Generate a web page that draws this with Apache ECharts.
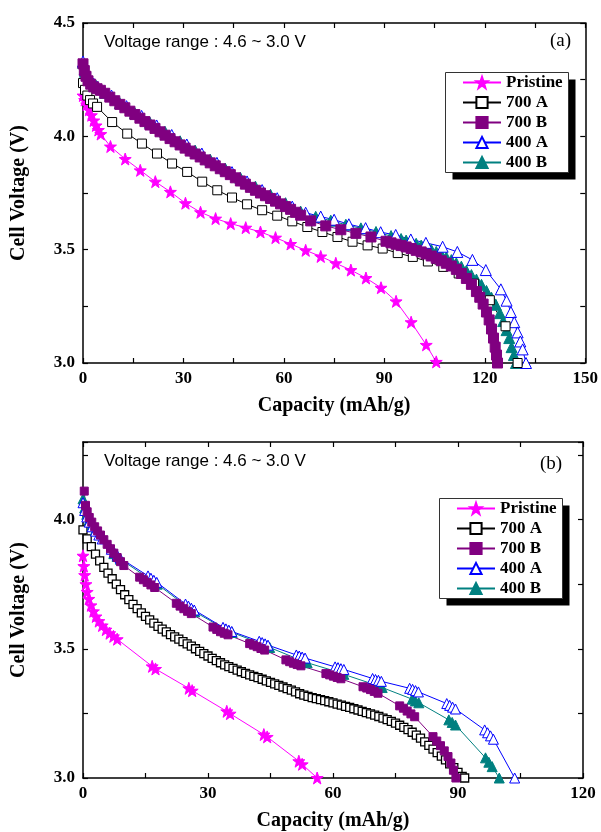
<!DOCTYPE html>
<html>
<head>
<meta charset="utf-8">
<script src="https://cdn.jsdelivr.net/npm/echarts@6/dist/echarts.min.js"></script>
<style>
  html, body { margin: 0; padding: 0; background: #fff; }
  #chart { width: 601px; height: 832px; }
</style>
</head>
<body>
<div id="chart"></div>
<script>
// ---- Panel (a): discharge curves, capacity (mAh/g) vs cell voltage (V) ----
const pristineA = [[0,4.18],[0.5,4.16],[1.1,4.14],[1.8,4.117],[2.5,4.093],[3.2,4.07],[3.9,4.048],[4.6,4.028],[5.3,4.01],
  [8.2,3.955],[12.6,3.90],[17.1,3.85],[21.6,3.80],[26.1,3.755],[30.6,3.705],[35.1,3.665],[39.6,3.637],[44.1,3.615],
  [48.6,3.597],[53.0,3.578],[57.5,3.553],[62.0,3.525],[66.5,3.497],[71.0,3.47],[75.5,3.44],[80.0,3.41],[84.5,3.375],
  [89.0,3.332],[93.5,3.272],[98.0,3.18],[102.5,3.08],[105.5,3.005]];

const s700A_a = [[0,4.235],[0.6,4.205],[1.3,4.18],[2.1,4.16],[3.0,4.145],[4.2,4.13],[8.7,4.063],[13.2,4.012],[17.6,3.968],
  [22.1,3.924],[26.6,3.88],[31.1,3.843],[35.6,3.80],[40.1,3.762],[44.5,3.73],[49.0,3.70],[53.5,3.674],[58.0,3.65],
  [62.5,3.625],[67.0,3.60],[71.5,3.578],[76.0,3.556],[80.5,3.535],[85.0,3.519],[89.5,3.505],[94.0,3.485],[98.5,3.468],
  [103.0,3.448],[107.6,3.424],[112.2,3.395],[116.8,3.35],[121.5,3.277],[126.2,3.162],[129.8,3.0]];

const s700B_a = [[0,4.32],[0.4,4.29],[0.9,4.265],[1.5,4.245],[2.3,4.23],[3.2,4.218],[4.2,4.21],[5.2,4.203],[6.5,4.19],
  [8,4.173],[9.5,4.157],[11,4.141],[12.5,4.126],[14,4.111],[15.5,4.096],[17,4.08],[18.5,4.065],[20,4.05],[21.5,4.035],
  [23,4.02],[24.5,4.005],[26,3.99],[27.5,3.976],[29,3.962],[30.5,3.948],[32,3.935],[33.5,3.922],[35,3.909],[36.5,3.896],
  [38,3.883],[39.5,3.87],[41,3.857],[42.5,3.844],[44,3.831],[45.5,3.817],[47,3.803],[48.5,3.789],[50,3.775],[51.5,3.762],
  [53,3.75],[54.5,3.738],[56,3.726],[57.5,3.714],[59,3.702],[60.5,3.69],[62,3.678],[63.5,3.665],[65,3.652],
  [68,3.627],[72.5,3.605],[77,3.588],[81.5,3.572],[86,3.556],[90.5,3.537],
  [92,3.53],[93.5,3.524],[95,3.518],[96.5,3.512],[98,3.505],[99.5,3.497],[101,3.49],[102.5,3.481],[104,3.472],
  [105.5,3.462],[107,3.451],[108.5,3.44],[110,3.428],[111.5,3.413],[113,3.395],[114.5,3.373],[116,3.347],[117.5,3.315],
  [118.5,3.29],[119.5,3.26],[120.5,3.225],[121.3,3.19],[122,3.15],[122.6,3.11],[123.1,3.07],[123.5,3.035],[123.8,3.0]];

const s400A_a = [[0,4.33],[0.5,4.295],[1.2,4.268],[2.1,4.248],[3.2,4.232],[4.4,4.218],[8.5,4.18],[13,4.133],[17.5,4.09],
  [22,4.048],[26.5,4.006],[31,3.964],[35.5,3.924],[40,3.883],[44.5,3.842],[49,3.801],[53.5,3.763],[58,3.727],[62.5,3.69],
  [66.5,3.663],[71,3.646],[75,3.632],[79.4,3.612],[84.4,3.595],[88.9,3.577],[93.4,3.565],[97.9,3.545],[102.4,3.53],
  [107.4,3.513],[111.8,3.49],[116.3,3.455],[120.3,3.41],[124.8,3.325],[126.5,3.275],[127.8,3.225],[128.8,3.18],
  [129.8,3.135],[130.6,3.095],[131.3,3.06],[132.3,3.0]];

const s400B_a = [[0,4.325],[0.6,4.285],[1.4,4.26],[2.5,4.24],[4,4.222],[6.5,4.192],[11,4.146],[15.5,4.102],[20,4.06],
  [24.5,4.02],[29,3.978],[33.5,3.937],[38,3.897],[42.5,3.857],[47,3.817],[51.5,3.778],[56,3.742],[60.5,3.705],[65,3.668],
  [69.5,3.645],[74,3.628],[78.5,3.61],[83,3.594],[87.5,3.578],[92,3.56],
  [93.5,3.553],[95,3.547],[96.5,3.54],[98,3.533],[99.5,3.526],[101,3.518],[102.5,3.51],[104,3.5],[105.5,3.49],
  [107,3.479],[108.5,3.467],[110,3.454],[111.5,3.44],[113,3.425],[114.5,3.407],[116,3.388],[117.5,3.368],[119,3.345],
  [120.5,3.318],[122,3.288],[123.3,3.257],[124.5,3.22],[125.5,3.185],[126.5,3.145],[127.3,3.11],[128,3.07],
  [128.7,3.035],[129.3,3.0]];

// ---- Panel (b) ----
const pristineB = [[0,3.86],[0.2,3.82],[0.4,3.785],[0.7,3.75],[1.0,3.72],[1.4,3.693],[1.9,3.668],[2.5,3.645],[3.1,3.625],
  [3.8,3.607],[4.6,3.59],[5.5,3.574],[6.4,3.56],[7.3,3.548],[8.2,3.537],[16.6,3.432],[17.4,3.422],[25.4,3.347],
  [26.2,3.338],[34.5,3.258],[35.3,3.249],[43.4,3.168],[44.2,3.159],[51.8,3.065],[52.6,3.053],[56.2,3.0]];

const s700A_b = [[0,3.96],[1,3.925],[2,3.895],[3,3.866],[4,3.84],[5,3.815],[6,3.793],[7,3.771],[8,3.75],[9,3.729],
  [10,3.709],[11,3.69],[12,3.672],[13,3.655],[14,3.639],[15,3.625],[16,3.612],[17,3.599],[18,3.587],[19,3.576],
  [20,3.565],[21,3.555],[22,3.546],[23,3.537],[24,3.528],[25,3.519],[26,3.51],[27,3.5],[28,3.49],[29,3.481],
  [30,3.472],[31,3.463],[32,3.454],[33,3.446],[34,3.438],[35,3.431],[36,3.424],[37,3.417],[38,3.411],[39,3.405],
  [40,3.399],[41,3.393],[42,3.388],[43,3.382],[44,3.376],[45,3.37],[46,3.364],[47,3.358],[48,3.352],[49,3.346],
  [50,3.34],[51,3.333],[52,3.326],[53,3.321],[54,3.316],[55,3.311],[56,3.307],[57,3.303],[58,3.299],[59,3.295],
  [60,3.291],[61,3.286],[62,3.282],[63,3.277],[64,3.273],[65,3.268],[66,3.263],[67,3.258],[68,3.253],[69,3.248],
  [70,3.243],[71,3.238],[72,3.232],[73,3.226],[74,3.219],[75,3.212],[76,3.204],[77,3.196],[78,3.187],[79,3.177],
  [80,3.166],[81,3.154],[82,3.14],[83,3.126],[84,3.112],[85,3.098],[86,3.085],[87,3.07],[88,3.055],[89,3.04],
  [90,3.022],[91,3.006],[91.6,3.0]];

const s700B_b = [[0.3,4.11],[0.6,4.055],[1.0,4.03],[1.5,4.008],[2.1,3.99],[2.8,3.972],[3.5,3.956],[4.2,3.94],[5.0,3.922],
  [5.8,3.904],[6.6,3.887],[7.4,3.87],[8.2,3.853],[9.0,3.837],[9.8,3.822],
  [13.6,3.777],[14.5,3.767],[15.4,3.757],[16.3,3.747],[17.2,3.737],
  [22.4,3.676],[23.3,3.665],[24.2,3.655],[25.1,3.645],[26.0,3.636],
  [31.2,3.584],[32.1,3.575],[33.0,3.566],[33.9,3.56],[34.8,3.554],
  [40.0,3.52],[40.9,3.514],[41.8,3.508],[42.7,3.501],[43.6,3.495],
  [48.7,3.457],[49.6,3.45],[50.5,3.444],[51.4,3.439],[52.3,3.434],
  [58.3,3.404],[59.2,3.399],[60.1,3.394],[61.0,3.389],[61.9,3.384],
  [67.2,3.353],[68.1,3.348],[69.0,3.342],[69.9,3.335],[70.8,3.328],
  [76.0,3.279],[76.9,3.27],[77.8,3.259],[78.7,3.248],[79.6,3.237],
  [84.0,3.16],[84.9,3.143],[85.8,3.125],[86.7,3.105],[87.6,3.083],[88.3,3.058],[88.9,3.03],[89.5,3.0]];

const s400A_b = [[0,4.065],[0.4,4.035],[0.9,4.01],[1.5,3.99],[2.2,3.972],[3.0,3.955],[3.8,3.94],[4.6,3.925],
  [6.8,3.885],[7.5,3.873],[8.2,3.862],[8.9,3.851],
  [15.6,3.782],[16.3,3.773],[17.0,3.765],[17.7,3.757],
  [24.6,3.673],[25.3,3.665],[26.0,3.657],[26.7,3.65],
  [33.6,3.583],[34.3,3.577],[35.0,3.572],[35.7,3.567],
  [42.3,3.529],[43.0,3.524],[43.7,3.519],[44.4,3.514],
  [51.2,3.476],[51.9,3.472],[52.6,3.468],[53.3,3.464],
  [60.5,3.43],[61.2,3.427],[61.9,3.423],[62.6,3.42],
  [69.5,3.385],[70.2,3.381],[70.9,3.378],[71.6,3.374],
  [78.4,3.347],[79.1,3.343],[79.8,3.338],[80.5,3.333],
  [87.3,3.288],[88.0,3.281],[88.7,3.274],[89.4,3.267],
  [96.4,3.186],[97.1,3.175],[97.8,3.163],[98.5,3.15],
  [103.6,3.0]];

const s400B_b = [[0,4.08],[0.4,4.045],[0.9,4.02],[1.5,3.998],[2.2,3.978],[3.0,3.96],
  [7.4,3.868],[8.2,3.857],[9.0,3.846],
  [16.2,3.768],[17.0,3.759],[17.8,3.75],
  [25.2,3.66],[26.0,3.651],[26.8,3.643],
  [34.2,3.575],[35.0,3.569],[35.8,3.563],
  [43.2,3.517],[44.0,3.511],[44.8,3.505],
  [52.2,3.456],[53.0,3.451],[53.8,3.446],
  [61.0,3.411],[61.8,3.406],[62.6,3.401],
  [70.2,3.36],[71.0,3.355],[71.8,3.35],
  [79.0,3.305],[79.8,3.298],[80.6,3.291],
  [87.8,3.225],[88.6,3.215],[89.4,3.205],
  [96.6,3.078],[97.4,3.061],[98.2,3.044],
  [99.9,3.0]];

const seriesNames = ['Pristine', '700 A', '700 B', '400 A', '400 B'];
const xMaxA = 150, xMaxB = 120;
const yMinA = 3.0, yMaxA = 4.5, yMinB = 3.0, yMaxB = 4.3;
const xTitle = 'Capacity (mAh/g)';
const yTitle = 'Cell Voltage (V)';
const rangeNote = 'Voltage range : 4.6 ~ 3.0 V';

const SERIF = 'Liberation Serif';
const SANS = 'Liberation Sans';
const STAR = 'path://M0,-10L2.35,-3.24L9.51,-3.09L3.8,1.24L5.88,8.09L0,4L-5.88,8.09L-3.8,1.24L-9.51,-3.09L-2.35,-3.24Z';

const styles = {
  'Pristine': { symbol: STAR, size: 11, fill: '#ff00ff', border: '#ff00ff', line: '#ff00ff' },
  '700 A':    { symbol: 'rect', size: 8, fill: '#ffffff', border: '#000000', line: '#000000' },
  '700 B':    { symbol: 'rect', size: 8, fill: '#800080', border: '#800080', line: '#800080' },
  '400 A':    { symbol: 'triangle', size: 11, fill: '#ffffff', border: '#0000ff', line: '#0000ff' },
  '400 B':    { symbol: 'triangle', size: 11, fill: '#008080', border: '#008080', line: '#008080' }
};

function curve(name, data, axisIdx, sizeOverride, borderW) {
  const s = styles[name];
  return {
    type: 'line', name, data,
    xAxisIndex: axisIdx, yAxisIndex: axisIdx,
    symbol: s.symbol, symbolSize: sizeOverride || s.size,
    itemStyle: { color: s.fill, borderColor: s.border, borderWidth: borderW || 1 },
    lineStyle: { color: s.line, width: 1 },
    emphasis: { disabled: true },
    animation: false
  };
}

const halfStep = v => Math.abs(v * 2 - Math.round(v * 2)) < 1e-6;
const tickStyle = { show: true, inside: true, length: 5, lineStyle: { color: '#000', width: 1.2 } };
const lineStyleAx = { show: true, onZero: false, lineStyle: { color: '#000', width: 1.5 } };
const labelFont = { fontFamily: SERIF, fontWeight: 'bold', fontSize: 17, color: '#000' };
const titleFont = { fontFamily: SERIF, fontWeight: 'bold', fontSize: 20, color: '#000' };

function xAxes(grid, max) {
  return [
    { gridIndex: grid, type: 'value', min: 0, max, interval: 15, position: 'bottom',
      axisLine: lineStyleAx, axisTick: tickStyle, splitLine: { show: false },
      axisLabel: Object.assign({ margin: 7, formatter: v => (v % 30 === 0 ? String(v) : '') }, labelFont),
      name: xTitle, nameLocation: 'middle', nameGap: 33, nameTextStyle: titleFont },
    { gridIndex: grid, type: 'value', min: 0, max, interval: 15, position: 'top',
      axisLine: lineStyleAx, axisTick: tickStyle, splitLine: { show: false }, axisLabel: { show: false } }
  ];
}
function yAxes(grid, min, max) {
  return [
    { gridIndex: grid, type: 'value', min, max, interval: 0.25, position: 'left',
      axisLine: lineStyleAx, axisTick: tickStyle, splitLine: { show: false },
      axisLabel: Object.assign({ margin: 8, formatter: v => (halfStep(v) ? v.toFixed(1) : '') }, labelFont),
      name: yTitle, nameLocation: 'middle', nameGap: 54, nameTextStyle: titleFont },
    { gridIndex: grid, type: 'value', min, max, interval: 0.25, position: 'right',
      axisLine: lineStyleAx, axisTick: tickStyle, splitLine: { show: false }, axisLabel: { show: false } }
  ];
}

// Legend entries only; the framed box with its solid drop shadow is drawn as graphics.
function legendItems(left, top) {
  return {
    orient: 'vertical', left, top, data: seriesNames, selectedMode: false, z: 12,
    backgroundColor: 'transparent', borderWidth: 0,
    padding: 0, itemGap: 3, itemWidth: 38, itemHeight: 14,
    textStyle: { fontFamily: SERIF, fontWeight: 'bold', fontSize: 17, lineHeight: 17, color: '#000' }
  };
}
function legendFrame(x, y, w, h) {
  return [
    { type: 'rect', z: 10, shape: { x: x + 7, y: y + 7, width: w, height: h }, style: { fill: '#000' } },
    { type: 'rect', z: 11, shape: { x, y, width: w, height: h }, style: { fill: '#fff', stroke: '#333', lineWidth: 1 } }
  ];
}

function note(text, left, top, font, size) {
  return { type: 'text', left, top, z: 10,
    style: { text, fontFamily: font, fontSize: size, fill: '#000' } };
}

const option = {
  animation: false,
  backgroundColor: '#fff',
  grid: [
    { left: 83, top: 23, width: 503, height: 340 },
    { left: 83, top: 442, width: 500, height: 338 }
  ],
  xAxis: [...xAxes(0, xMaxA), ...xAxes(1, xMaxB)],
  yAxis: [...yAxes(0, yMinA, yMaxA), ...yAxes(1, yMinB, yMaxB)],
  legend: [legendItems(462, 74), legendItems(456, 500)],
  graphic: [
    ...legendFrame(445.5, 72.5, 123, 100),
    ...legendFrame(439.5, 498.5, 123, 100),
    note(rangeNote, 104, 34, SANS, 17),
    note('(a)', 550, 32, SERIF, 19),
    note(rangeNote, 104, 453, SANS, 17),
    note('(b)', 540, 455, SERIF, 19)
  ],
  series: [
    curve('Pristine', pristineA, 0, 12),
    curve('400 B', s400B_a, 0),
    curve('400 A', s400A_a, 0),
    curve('700 A', s700A_a, 0, 9),
    curve('700 B', s700B_a, 0, 10),
    curve('Pristine', pristineB, 2, 12),
    curve('700 A', s700A_b, 2, 8, 1.3),
    curve('400 B', s400B_b, 2, 10),
    curve('400 A', s400A_b, 2, 10),
    curve('700 B', s700B_b, 2, 8)
  ]
};

const chart = echarts.init(document.getElementById('chart'), null, { renderer: 'canvas' });
chart.setOption(option);
</script>
</body>
</html>
